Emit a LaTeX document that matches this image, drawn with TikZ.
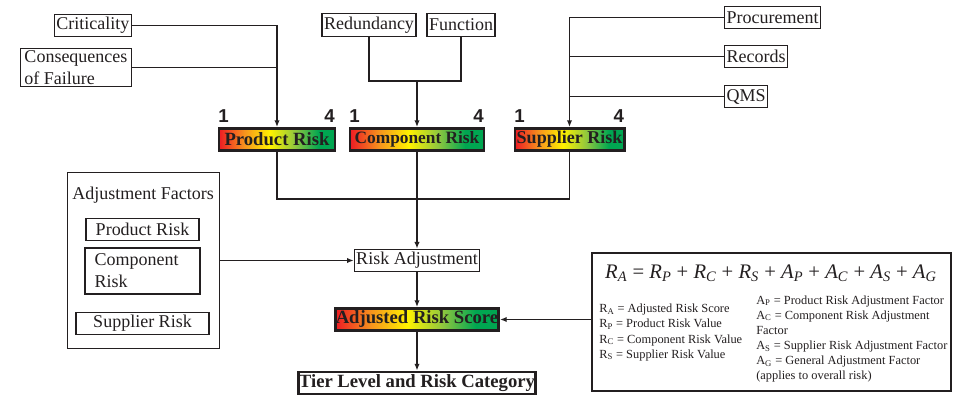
\documentclass[tikz,border=0pt]{standalone}
\usepackage{fontspec}
\setmainfont{Liberation Serif}
\newfontfamily\digitfont{Liberation Sans}
\usetikzlibrary{arrows.meta, positioning}

\definecolor{inkblack}{HTML}{231F20}
\definecolor{riskred}{HTML}{ED1C24}
\definecolor{riskorange}{HTML}{F7941D}
\definecolor{riskyellow}{HTML}{FFF200}
\definecolor{risklime}{HTML}{8DC63F}
\definecolor{riskgreen}{HTML}{00A651}
\pgfdeclarehorizontalshading{riskscale}{100bp}{color(0bp)=(riskred); color(25bp)=(riskred); color(36bp)=(riskorange); color(47bp)=(riskyellow); color(58bp)=(risklime); color(68bp)=(riskgreen); color(100bp)=(riskgreen)}

\newcommand{\fvar}[2]{\textit{#1}\textsubscript{\textit{#2}}}

\begin{document}
\begin{tikzpicture}[
      x=0.75pt, y=-0.75pt,
      box/.style={draw=inkblack, line width=0.8pt, inner xsep=1.5pt, inner ysep=1.5pt, minimum height=17pt, text=inkblack, font=\rmfamily\fontsize{13.5}{16.5}\selectfont},
      riskbar/.style={draw=inkblack, line width=2.2pt, shade, shading=riskscale, minimum height=16.5pt, inner sep=0pt, text=inkblack, font=\rmfamily\bfseries\fontsize{14}{16}\selectfont},
      scalenum/.style={inner sep=0pt, text=inkblack, font=\digitfont\bfseries\fontsize{14}{14}\selectfont},
      legend/.style={align=left, inner sep=0pt, text=inkblack, font=\rmfamily\fontsize{9.3}{11.3}\selectfont},
      link/.style={draw=inkblack, line width=1.1pt},
      arrow/.style={link, -{Latex[length=5pt, width=4pt]}}
    ]
    \useasboundingbox (0,0) rectangle (961,396);

    % top inputs
    \node[box, anchor=east] (crit) at (132,25.5) {Criticality};
    \node[box, anchor=east, align=left, inner xsep=3pt] (conseq) at (132,67.5) {Consequences\\of Failure};
    \node[box] (redund) at (369,25) {Redundancy};
    \node[box] (func) at (461,25) {Function};
    \node[box, anchor=west] (procure) at (724,17.5) {Procurement};
    \node[box, anchor=west] (records) at (724,56.5) {Records};
    \node[box, anchor=west] (qms) at (724,96.5) {QMS};

    % risk bars
    \node[riskbar, minimum width=87pt] (prodrisk) at (277,139.5) {Product Risk};
    \node[riskbar, minimum width=100.5pt, font=\rmfamily\bfseries\fontsize{13}{16}\selectfont] (comprisk) at (417,139.5) {Component Risk};
    \node[riskbar, minimum width=81.8pt, font=\rmfamily\bfseries\fontsize{13.5}{16}\selectfont] (supprisk) at (569.5,139.5) {Supplier Risk};
    \foreach \bar/\tag in {prodrisk/p, comprisk/c, supprisk/s} {
      \node[scalenum, anchor=south west] (\tag1) at ([xshift=0.5pt, yshift=3pt]\bar.north west) {1};
      \node[scalenum, anchor=south east] (\tag4) at ([xshift=-1pt, yshift=3pt]\bar.north east) {4};
    }

    % adjustment factors
    \node[draw=inkblack, line width=0.8pt, minimum width=114pt, minimum height=132pt] (adjfac) at (143.5,260.5) {};
    \node[inner sep=0pt, text=inkblack, font=\rmfamily\fontsize{13.5}{16.5}\selectfont] (adjtitle) at (143,195) {Adjustment Factors};
    \node[box, minimum width=84.75pt] (afprod) at (142.5,229.5) {Product Risk};
    \node[box, minimum width=86.25pt, minimum height=34.5pt, align=left, text width=72pt] (afcomp) at (142.5,271) {Component\\Risk};
    \node[box, minimum width=99.75pt] (afsupp) at (142.5,323.5) {Supplier Risk};

    % result chain
    \node[box] (riskadj) at (417,260.5) {Risk Adjustment};
    \node[riskbar, minimum width=122.3pt] (adjscore) at (417,319.5) {Adjusted Risk Score};
    \node[riskbar, shade=false, fill=white, minimum width=177.8pt] (tier) at (417,383) {Tier Level and Risk Category};

    % formula panel
    \node[draw=inkblack, line width=0.8pt, minimum width=269.25pt, minimum height=103.5pt] (formbox) at (771.5,322) {};
    \node[inner sep=0pt, text=inkblack, font=\rmfamily\fontsize{15.5}{18}\selectfont] (formula) at (771,273)
      {\fvar{R}{A} = \fvar{R}{P} + \fvar{R}{C} + \fvar{R}{S} + \fvar{A}{P} + \fvar{A}{C} + \fvar{A}{S} + \fvar{A}{G}};
    \node[legend, anchor=west] (legleft) at (599,332.5)
      {R\textsubscript{A} = Adjusted Risk Score\\R\textsubscript{P} = Product Risk Value\\R\textsubscript{C} = Component Risk Value\\R\textsubscript{S} = Supplier Risk Value};
    \node[legend, anchor=west] (legright) at (756,339)
      {A\textsubscript{P} = Product Risk Adjustment Factor\\A\textsubscript{C} = Component Risk Adjustment\\Factor\\A\textsubscript{S} = Supplier Risk Adjustment Factor\\A\textsubscript{G} = General Adjustment Factor\\(applies to overall risk)};

    % connectors
    \coordinate (compjoin) at (417,81);
    \coordinate (barjoin) at (417,199);
    \draw[arrow] (crit.east) -| (prodrisk.north);
    \draw[link] (conseq.east) -- (conseq.east -| prodrisk.north);
    \draw[link] (redund.south) |- (compjoin) -| (func.south);
    \draw[arrow] (compjoin) -- (comprisk.north);
    \draw[arrow] (procure.west) -| (supprisk.north);
    \draw[link] (records.west) -- (records.west -| supprisk.north);
    \draw[link] (qms.west) -- (qms.west -| supprisk.north);
    \draw[link] (prodrisk.south) |- (barjoin -| supprisk.south) -- (supprisk.south);
    \draw[arrow] (comprisk.south) -- (riskadj.north);
    \draw[arrow] (adjfac.east |- riskadj.west) -- (riskadj.west);
    \draw[arrow] (riskadj) -- (adjscore);
    \draw[arrow] (adjscore) -- (tier);
    \draw[arrow] (formbox.west |- adjscore.east) -- (adjscore.east);
  \end{tikzpicture}
\end{document}
